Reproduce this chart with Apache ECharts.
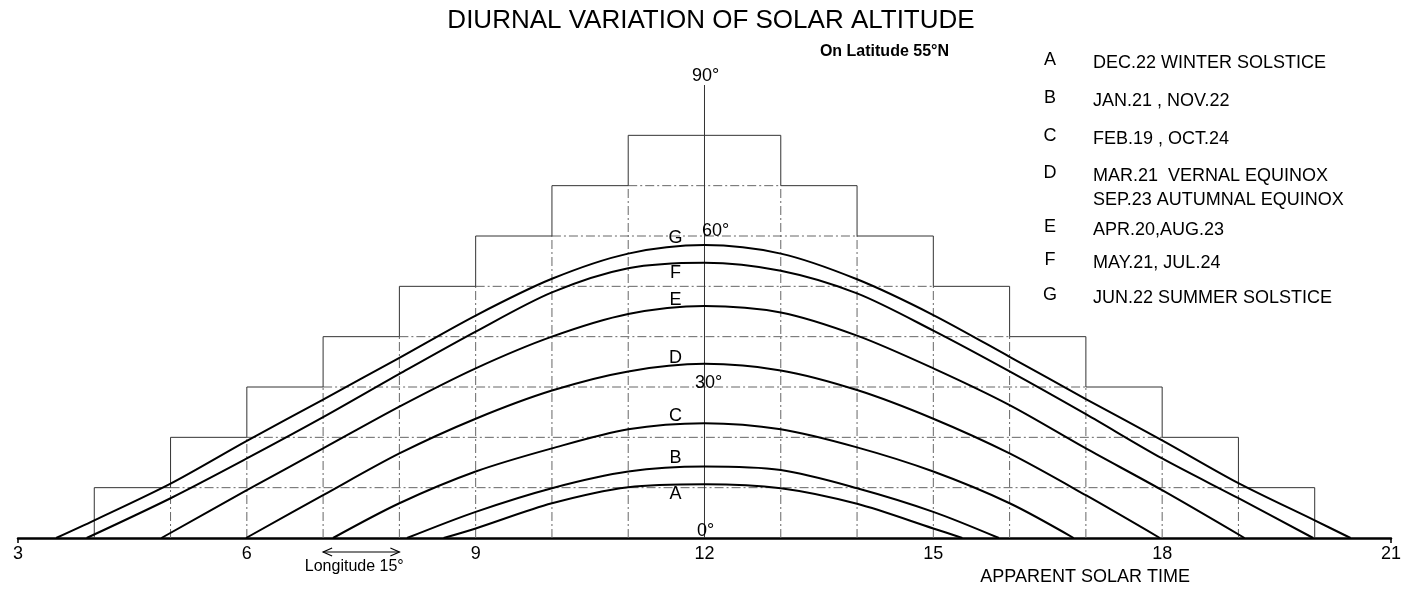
<!DOCTYPE html>
<html>
<head>
<meta charset="utf-8">
<script src="https://cdn.jsdelivr.net/npm/echarts@6/dist/echarts.min.js"></script>
<style>
  html, body { margin: 0; padding: 0; background: #fff; }
  #chart { width: 1404px; height: 589px; }
</style>
</head>
<body>
<div id="chart"></div>
<script>
// solar altitude (deg) against apparent solar time (h)
var curveA = [[8.58, 0], [9, 1.9], [10, 6.9], [11, 10.1], [12, 10.7], [13, 9.9], [14, 6.8], [15, 1.9], [15.38, 0]];
var curveB = [[8.1, 0], [9, 5.2], [10, 9.9], [11, 13.2], [12, 14.2], [13, 13.5], [14, 9.9], [15, 5.2], [15.86, 0]];
var curveC = [[7.13, 0], [8, 6.9], [9, 13.2], [10, 17.8], [11, 21.6], [12, 22.8], [13, 21.6], [14, 18.0], [15, 13.2], [16, 6.9], [16.84, 0]];
var curveD = [[5.99, 0], [7, 8.5], [8, 16.8], [9, 23.7], [10, 29.3], [11, 33.1], [12, 34.6], [13, 33.3], [14, 29.4], [15, 23.7], [16, 16.8], [17, 8.5], [17.97, 0]];
var curveE = [[4.88, 0], [6, 9.5], [7, 17.8], [8, 26.1], [9, 33.7], [10, 40.0], [11, 44.5], [12, 46.1], [13, 44.8], [14, 40.2], [15, 33.7], [16, 26.4], [17, 17.8], [18, 9.5], [19.08, 0]];
var curveF = [[3.9, 0], [5, 7.9], [6, 15.8], [7, 24.0], [8, 32.6], [9, 41.0], [10, 48.8], [11, 53.6], [12, 54.7], [13, 53.1], [14, 48.6], [15, 41.2], [16, 33.1], [17, 24.6], [18, 15.8], [19, 7.9], [19.98, 0]];
var curveG = [[3.5, 0], [4, 3.5], [5, 10.8], [6, 19.3], [7, 27.5], [8, 35.8], [9, 44.2], [10, 51.5], [11, 56.5], [12, 58.2], [13, 56.5], [14, 51.4], [15, 44.3], [16, 36.0], [17, 27.6], [18, 19.4], [19, 10.9], [20, 3.5], [20.47, 0]];

var curveLetters = ["A", "B", "C", "D", "E", "F", "G"];
var curveData = [curveA, curveB, curveC, curveD, curveE, curveF, curveG];
var legendText = [
  "DEC.22 WINTER SOLSTICE",
  "JAN.21 , NOV.22",
  "FEB.19 , OCT.24",
  "MAR.21  VERNAL EQUINOX\nSEP.23 AUTUMNAL EQUINOX",
  "APR.20,AUG.23",
  "MAY.21, JUL.24",
  "JUN.22 SUMMER SOLSTICE"
];

// hour ticks and the staircase of 10 deg steps, one hour per step
var hourTicks = [3, 6, 9, 12, 15, 18, 21];
var stepLevels = [10, 20, 30, 40, 50, 60, 70, 80];
var altitudeMarks = [0, 30, 60, 90];

var font = "Liberation Sans";
var noon = 12;

// build segments [x1, y1, x2, y2] from the step levels
var outlineSegs = [];
var innerSegs = [];
stepLevels.forEach(function(hi, i) {
  var lo = i ? stepLevels[i - 1] : 0;
  var hl = 4 + i, hr = 20 - i;
  outlineSegs.push([hl, lo, hl, hi], [hr, lo, hr, hi]);
  if (i < stepLevels.length - 1) {
    outlineSegs.push([hl, hi, hl + 1, hi], [hr - 1, hi, hr, hi]);
    innerSegs.push([hl + 1, hi, hr - 1, hi]);
    innerSegs.push([hl + 1, 0, hl + 1, hi], [hr - 1, 0, hr - 1, hi]);
  } else {
    outlineSegs.push([hl, hi, hr, hi]);
  }
});
var axisSegs = [[noon, 0, noon, 90]];

function segRenderer(stroke, dash) {
  return function(params, api) {
    var p1 = api.coord([api.value(0), api.value(1)]);
    var p2 = api.coord([api.value(2), api.value(3)]);
    return {
      type: "line",
      shape: { x1: p1[0], y1: p1[1], x2: p2[0], y2: p2[1] },
      style: { stroke: stroke, lineWidth: 1, lineDash: dash }
    };
  };
}

// label offsets (px) of the curve letters near noon
var letterDy = { A: 10, B: -8, C: -7, D: -6, E: -6, F: 10, G: -7 };
var markOffset = { 0: [1, -7], 30: [4, -4], 60: [11, -5], 90: [1, -9] };

var chart = echarts.init(document.getElementById("chart"));

var series = [
  {
    type: "custom", name: "inner", data: innerSegs, silent: true,
    encode: { x: [0, 2], y: [1, 3] },
    renderItem: segRenderer("#666", [9, 3, 2, 3]), z: 1
  },
  {
    type: "custom", name: "outline", data: outlineSegs.concat(axisSegs), silent: true,
    encode: { x: [0, 2], y: [1, 3] },
    renderItem: segRenderer("#333", null), z: 1
  }
];

curveData.forEach(function(d, i) {
  series.push({
    type: "line", name: curveLetters[i], data: d,
    smooth: 0.3, showSymbol: false,
    lineStyle: { color: "#000", width: 2 }, z: 3
  });
});

var labelStyle = { show: true, position: "inside", formatter: "{b}", color: "#000", opacity: 1, fontSize: 18, fontFamily: font };

series.push({
  type: "scatter", name: "letters", symbolSize: 1,
  itemStyle: { color: "rgba(0,0,0,0)", opacity: 1 },
  data: curveData.map(function(d, i) {
    var peak = d.filter(function(p) { return p[0] === noon; })[0][1];
    return { name: curveLetters[i], value: [11.62, peak], label: { offset: [0, letterDy[curveLetters[i]]] } };
  }),
  label: labelStyle,
  z: 4
});

series.push({
  type: "scatter", name: "marks", symbolSize: 1,
  itemStyle: { color: "rgba(0,0,0,0)", opacity: 1 },
  data: altitudeMarks.map(function(v) {
    return { name: v + "°", value: [noon, v], label: { offset: markOffset[v] } };
  }),
  label: labelStyle,
  z: 4
});

chart.setOption({
  animation: false,
  backgroundColor: "#fff",
  grid: { left: 18, right: 11, top: 85, bottom: 51 },
  xAxis: {
    type: "value", min: 3, max: 21, interval: 3,
    axisLine: { lineStyle: { color: "#000", width: 2.5 } },
    axisTick: { show: true, customValues: [hourTicks[0], hourTicks[hourTicks.length - 1]], length: 5, lineStyle: { color: "#000", width: 1.5 } },
    axisLabel: { color: "#000", fontSize: 18, margin: 7, fontFamily: font },
    splitLine: { show: false }
  },
  yAxis: { type: "value", min: 0, max: 90, show: false },
  series: series
});

// texts and the longitude arrow
var graphic = [
  { type: "text", x: 711, y: 21, style: { text: "DIURNAL VARIATION OF SOLAR ALTITUDE", font: "26px '" + font + "'", fill: "#000", textAlign: "center", textVerticalAlign: "middle" } },
  { type: "text", x: 949, y: 52, style: { text: "On Latitude 55°N", font: "bold 16px '" + font + "'", fill: "#000", textAlign: "right", textVerticalAlign: "middle" } },
  { type: "text", x: 1190, y: 577, style: { text: "APPARENT SOLAR TIME", font: "18px '" + font + "'", fill: "#000", textAlign: "right", textVerticalAlign: "middle" } }
];
var rowY = [60, 98, 136, 173, 227, 260, 295];
curveLetters.forEach(function(l, i) {
  graphic.push({ type: "text", x: 1050, y: rowY[i], style: { text: l, font: "18px '" + font + "'", fill: "#000", textAlign: "center", textVerticalAlign: "middle" } });
  graphic.push({ type: "text", x: 1093, y: rowY[i] - 9, style: { text: legendText[i], font: "18px '" + font + "'", fill: "#000", textAlign: "left", textVerticalAlign: "top", lineHeight: 24 } });
});

var a0 = chart.convertToPixel({ gridIndex: 0 }, [7, 0]);
var a1 = chart.convertToPixel({ gridIndex: 0 }, [8, 0]);
var ay = a0[1] + 14;
graphic.push(
  { type: "line", shape: { x1: a0[0], y1: ay, x2: a1[0], y2: ay }, style: { stroke: "#000", lineWidth: 1.2 } },
  { type: "polyline", shape: { points: [[a0[0] + 9, ay - 4], [a0[0], ay], [a0[0] + 9, ay + 4]] }, style: { stroke: "#000", lineWidth: 1.2, fill: null } },
  { type: "polyline", shape: { points: [[a1[0] - 9, ay - 4], [a1[0], ay], [a1[0] - 9, ay + 4]] }, style: { stroke: "#000", lineWidth: 1.2, fill: null } },
  { type: "text", x: (a0[0] + a1[0]) / 2 - 7, y: ay + 15, style: { text: "Longitude 15°", font: "16px '" + font + "'", fill: "#000", textAlign: "center", textVerticalAlign: "middle" } }
);
chart.setOption({ graphic: graphic });
</script>
</body>
</html>
